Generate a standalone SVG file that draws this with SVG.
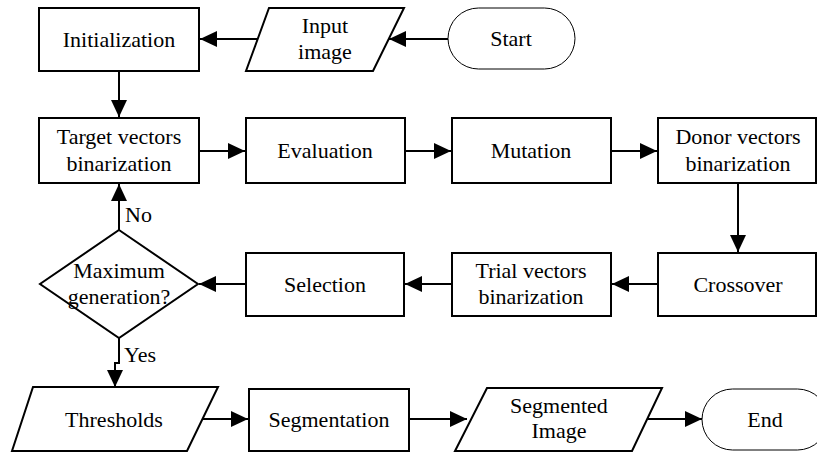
<svg xmlns="http://www.w3.org/2000/svg" width="817" height="455" viewBox="0 0 817 455">
<style>
.box{fill:#fff;stroke:#000;stroke-width:2}
.term{fill:#fff;stroke:#000;stroke-width:1}
.t{font-family:"Liberation Serif","Times New Roman",Tinos,"Noto Serif","DejaVu Serif",Times,serif;font-size:22px;fill:#000;text-anchor:middle}
.lbl{font-family:"Liberation Serif","Times New Roman",Tinos,"Noto Serif","DejaVu Serif",Times,serif;font-size:22px;fill:#000}
.c{fill:none;stroke:#000;stroke-width:2;marker-end:url(#ah)}
</style>
<defs>
<marker id="ah" markerUnits="userSpaceOnUse" markerWidth="18" markerHeight="18" refX="17" refY="8" orient="auto">
<path d="M0,0 L17,8 L0,16 z" fill="#000"/>
</marker>
</defs>
<rect width="817" height="455" fill="#fff"/>
<g id="connectors">
<path class="c" d="M448,39 H389"/>
<path class="c" d="M260,39 H200"/>
<path class="c" d="M119,71 V117"/>
<path class="c" d="M199,151 H245"/>
<path class="c" d="M405,151 H451"/>
<path class="c" d="M611,151 H657"/>
<path class="c" d="M738,183 V252"/>
<path class="c" d="M658,284 H612"/>
<path class="c" d="M452,284 H405"/>
<path class="c" d="M246,284 H199"/>
<path class="c" d="M119,230 V184"/>
<path class="c" d="M119,338 V363 H115 V387"/>
<path class="c" d="M203,419 H248"/>
<path class="c" d="M409,419 H467"/>
<path class="c" d="M648,419 H702"/>
<text class="lbl" x="125" y="222">No</text>
<text class="lbl" x="124" y="362">Yes</text>
</g>
<g id="start">
<rect class="term" x="448" y="8" width="127" height="61" rx="30.5" ry="30.5"/>
<text class="t" x="511" y="46">Start</text>
</g>
<g id="input">
<polygon class="box" points="269,8 404,8 373,71 246,71"/>
<text class="t" x="325" y="33">Input</text>
<text class="t" x="325" y="59">image</text>
</g>
<g id="init">
<rect class="box" x="39" y="8" width="160" height="63"/>
<text class="t" x="119" y="47">Initialization</text>
</g>
<g id="target">
<rect class="box" x="39" y="118" width="160" height="65"/>
<text class="t" x="119" y="144">Target vectors</text>
<text class="t" x="119" y="171">binarization</text>
</g>
<g id="evaluation">
<rect class="box" x="246" y="118" width="159" height="65"/>
<text class="t" x="325" y="158">Evaluation</text>
</g>
<g id="mutation">
<rect class="box" x="452" y="118" width="159" height="65"/>
<text class="t" x="531" y="158">Mutation</text>
</g>
<g id="donor">
<rect class="box" x="658" y="118" width="158" height="65"/>
<text class="t" x="738" y="144">Donor vectors</text>
<text class="t" x="738" y="171">binarization</text>
</g>
<g id="crossover">
<rect class="box" x="658" y="253" width="158" height="63"/>
<text class="t" x="738" y="292">Crossover</text>
</g>
<g id="trial">
<rect class="box" x="452" y="253" width="159" height="63"/>
<text class="t" x="531" y="278">Trial vectors</text>
<text class="t" x="531" y="304">binarization</text>
</g>
<g id="selection">
<rect class="box" x="246" y="253" width="158" height="63"/>
<text class="t" x="325" y="292">Selection</text>
</g>
<g id="decision">
<polygon class="box" points="119,230 198,284 119,338 40,284"/>
<text class="t" x="119" y="278">Maximum</text>
<text class="t" x="119" y="304">generation?</text>
</g>
<g id="thresholds">
<polygon class="box" points="33,387 218,387 187,451 12,451"/>
<text class="t" x="114" y="427">Thresholds</text>
</g>
<g id="segmentation">
<rect class="box" x="249" y="389" width="160" height="62"/>
<text class="t" x="329" y="427">Segmentation</text>
</g>
<g id="segmented">
<polygon class="box" points="487,388 662,388 632,451 455,451"/>
<text class="t" x="559" y="413">Segmented</text>
<text class="t" x="559" y="438">Image</text>
</g>
<g id="end">
<rect class="term" x="702" y="389" width="126" height="61" rx="30.5" ry="30.5"/>
<text class="t" x="765" y="427">End</text>
</g>
</svg>
